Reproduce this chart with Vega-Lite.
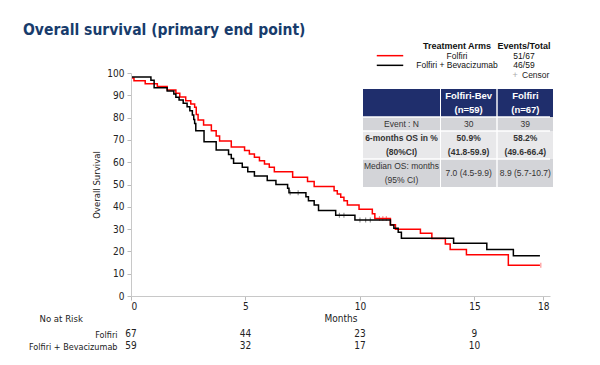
{
 "$schema": "https://vega.github.io/schema/vega-lite/v6.json",
 "width": 419,
 "height": 223,
 "autosize": {"type": "none"},
 "padding": {"left": 131, "top": 73, "right": 50, "bottom": 69},
 "background": "white",
 "config": {"view": {"stroke": null}, "axis": {"grid": false}},
 "title": {"text": "Overall survival (primary end point)", "anchor": "start", "frame": "group", "dx": -108, "font": "DejaVu Sans Condensed, Roboto, sans-serif", "fontSize": 15.5, "fontWeight": "bold", "color": "#183c6c"},
 "datasets": {
  "km": [
   {"arm":"Folfiri","month":0,"survival":97.8},{"arm":"Folfiri","month":0.13,"survival":96.5},{"arm":"Folfiri","month":0.62,"survival":95.2},{"arm":"Folfiri","month":1.15,"survival":93.9},{"arm":"Folfiri","month":1.58,"survival":92.4},{"arm":"Folfiri","month":1.96,"survival":90.9},{"arm":"Folfiri","month":2.13,"survival":89.2},{"arm":"Folfiri","month":2.39,"survival":87.6},{"arm":"Folfiri","month":2.61,"survival":86.1},{"arm":"Folfiri","month":2.78,"survival":84.6},{"arm":"Folfiri","month":2.85,"survival":81.4},{"arm":"Folfiri","month":2.93,"survival":78.9},{"arm":"Folfiri","month":3.17,"survival":76.7},{"arm":"Folfiri","month":3.51,"survival":74.1},{"arm":"Folfiri","month":3.72,"survival":71.7},{"arm":"Folfiri","month":3.87,"survival":69.5},{"arm":"Folfiri","month":4.38,"survival":66.8},{"arm":"Folfiri","month":4.96,"survival":65.2},{"arm":"Folfiri","month":5.17,"survival":63.7},{"arm":"Folfiri","month":5.39,"survival":62.2},{"arm":"Folfiri","month":5.61,"survival":60.7},{"arm":"Folfiri","month":5.83,"survival":59.2},{"arm":"Folfiri","month":6.04,"survival":57.7},{"arm":"Folfiri","month":6.26,"survival":55.7},{"arm":"Folfiri","month":7.06,"survival":53.2},{"arm":"Folfiri","month":7.71,"survival":51.3},{"arm":"Folfiri","month":8.0,"survival":49.1},{"arm":"Folfiri","month":8.87,"survival":47.2},{"arm":"Folfiri","month":9.01,"survival":45.7},{"arm":"Folfiri","month":9.16,"survival":44.3},{"arm":"Folfiri","month":9.3,"survival":42.7},{"arm":"Folfiri","month":9.45,"survival":40.8},{"arm":"Folfiri","month":9.96,"survival":38.9},{"arm":"Folfiri","month":10.54,"survival":36.9},{"arm":"Folfiri","month":10.65,"survival":34.8},{"arm":"Folfiri","month":11.33,"survival":31.9},{"arm":"Folfiri","month":11.55,"survival":29.9},{"arm":"Folfiri","month":12.64,"survival":28.1},{"arm":"Folfiri","month":13.14,"survival":25.8},{"arm":"Folfiri","month":13.73,"survival":23.3},{"arm":"Folfiri","month":13.94,"survival":20.9},{"arm":"Folfiri","month":14.65,"survival":18.5},{"arm":"Folfiri","month":16.48,"survival":13.8},{"arm":"Folfiri","month":17.86,"survival":13.8},
   {"arm":"Folfiri + Bevacizumab","month":0,"survival":98.2},{"arm":"Folfiri + Bevacizumab","month":0.87,"survival":96.8},{"arm":"Folfiri + Bevacizumab","month":1.01,"survival":93.4},{"arm":"Folfiri + Bevacizumab","month":1.58,"survival":91.9},{"arm":"Folfiri + Bevacizumab","month":1.87,"survival":90.6},{"arm":"Folfiri + Bevacizumab","month":1.96,"survival":89.1},{"arm":"Folfiri + Bevacizumab","month":2.1,"survival":87.9},{"arm":"Folfiri + Bevacizumab","month":2.28,"survival":86.4},{"arm":"Folfiri + Bevacizumab","month":2.45,"survival":84.9},{"arm":"Folfiri + Bevacizumab","month":2.57,"survival":83.1},{"arm":"Folfiri + Bevacizumab","month":2.68,"survival":81.2},{"arm":"Folfiri + Bevacizumab","month":2.74,"survival":79.2},{"arm":"Folfiri + Bevacizumab","month":2.78,"survival":77.4},{"arm":"Folfiri + Bevacizumab","month":2.83,"survival":74.1},{"arm":"Folfiri + Bevacizumab","month":3.19,"survival":69.2},{"arm":"Folfiri + Bevacizumab","month":3.72,"survival":65.5},{"arm":"Folfiri + Bevacizumab","month":4.26,"survival":63.5},{"arm":"Folfiri + Bevacizumab","month":4.38,"survival":61.7},{"arm":"Folfiri + Bevacizumab","month":4.48,"survival":59.5},{"arm":"Folfiri + Bevacizumab","month":4.86,"survival":57.7},{"arm":"Folfiri + Bevacizumab","month":5.1,"survival":55.7},{"arm":"Folfiri + Bevacizumab","month":5.39,"survival":53.8},{"arm":"Folfiri + Bevacizumab","month":5.95,"survival":51.8},{"arm":"Folfiri + Bevacizumab","month":6.33,"survival":50.0},{"arm":"Folfiri + Bevacizumab","month":6.84,"survival":48.3},{"arm":"Folfiri + Bevacizumab","month":6.9,"survival":46.3},{"arm":"Folfiri + Bevacizumab","month":7.64,"survival":44.5},{"arm":"Folfiri + Bevacizumab","month":7.75,"survival":42.7},{"arm":"Folfiri + Bevacizumab","month":8.0,"survival":40.8},{"arm":"Folfiri + Bevacizumab","month":8.19,"survival":38.3},{"arm":"Folfiri + Bevacizumab","month":8.94,"survival":36.2},{"arm":"Folfiri + Bevacizumab","month":9.78,"survival":34.1},{"arm":"Folfiri + Bevacizumab","month":11.33,"survival":31.8},{"arm":"Folfiri + Bevacizumab","month":11.48,"survival":30.4},{"arm":"Folfiri + Bevacizumab","month":11.67,"survival":28.6},{"arm":"Folfiri + Bevacizumab","month":11.81,"survival":25.9},{"arm":"Folfiri + Bevacizumab","month":14.09,"survival":23.6},{"arm":"Folfiri + Bevacizumab","month":15.54,"survival":20.9},{"arm":"Folfiri + Bevacizumab","month":16.7,"survival":18.1},{"arm":"Folfiri + Bevacizumab","month":17.86,"survival":18.1}
  ],
  "censor": [
   {"arm":"Folfiri + Bevacizumab","month":6.95,"survival":46.3},{"arm":"Folfiri + Bevacizumab","month":7.3,"survival":46.3},{"arm":"Folfiri + Bevacizumab","month":9.1,"survival":36.2},{"arm":"Folfiri + Bevacizumab","month":9.3,"survival":36.2},{"arm":"Folfiri + Bevacizumab","month":10.0,"survival":34.1},{"arm":"Folfiri + Bevacizumab","month":10.25,"survival":34.1},{"arm":"Folfiri + Bevacizumab","month":10.45,"survival":34.1},
   {"arm":"Folfiri","month":10.85,"survival":34.8},{"arm":"Folfiri","month":11.0,"survival":34.8},{"arm":"Folfiri","month":11.15,"survival":34.8},{"arm":"Folfiri","month":17.9,"survival":13.8}
  ],
  "risk": [
   {"arm":"Folfiri","month":0,"n":67},{"arm":"Folfiri","month":5,"n":44},{"arm":"Folfiri","month":10,"n":23},{"arm":"Folfiri","month":15,"n":9},
   {"arm":"Folfiri + Bevacizumab","month":0,"n":59},{"arm":"Folfiri + Bevacizumab","month":5,"n":32},{"arm":"Folfiri + Bevacizumab","month":10,"n":17},{"arm":"Folfiri + Bevacizumab","month":15,"n":10}
  ],
  "legHead": [{"lrow":"head","lcol":"arm","txt":"Treatment Arms"},{"lrow":"head","lcol":"events","txt":"Events/Total"}],
  "legRows": [{"lrow":"Folfiri","lcol":"arm","txt":"Folfiri"},{"lrow":"Folfiri","lcol":"events","txt":"51/67"},{"lrow":"Folfiri + Bevacizumab","lcol":"arm","txt":"Folfiri + Bevacizumab"},{"lrow":"Folfiri + Bevacizumab","lcol":"events","txt":"46/59"}],
  "legSym": [{"lrow":"Folfiri","lcol":"sym","arm":"Folfiri"},{"lrow":"Folfiri + Bevacizumab","lcol":"sym","arm":"Folfiri + Bevacizumab"}],
  "legCensor": [{"lrow":"censor","lcol":"events","txt":"Censor"}],
  "tLabBg": [
   {"col":"label","line":"h1","grp":"head"},{"col":"label","line":"h2","grp":"head"},{"col":"label","line":"e","grp":"gray"},{"col":"label","line":"o1","grp":"light"},{"col":"label","line":"o2","grp":"light"},{"col":"label","line":"m1","grp":"gray"},{"col":"label","line":"m2","grp":"gray"}
  ],
  "tValBg": [
   {"col":"Folfiri-Bev","line":"h1","grp":"head"},{"col":"Folfiri-Bev","line":"h2","grp":"head"},{"col":"Folfiri-Bev","line":"e","grp":"gray"},{"col":"Folfiri-Bev","line":"o1","grp":"light"},{"col":"Folfiri-Bev","line":"o2","grp":"light"},{"col":"Folfiri-Bev","line":"m1","grp":"gray"},{"col":"Folfiri-Bev","line":"m2","grp":"gray"},
   {"col":"Folfiri","line":"h1","grp":"head"},{"col":"Folfiri","line":"h2","grp":"head"},{"col":"Folfiri","line":"e","grp":"gray"},{"col":"Folfiri","line":"o1","grp":"light"},{"col":"Folfiri","line":"o2","grp":"light"},{"col":"Folfiri","line":"m1","grp":"gray"},{"col":"Folfiri","line":"m2","grp":"gray"}
  ],
  "tLab": [
   {"col":"label","line":"e","txt":"Event : N","style":"norm"},{"col":"label","line":"o1","txt":"6-months OS in %","style":"bold"},{"col":"label","line":"o2","txt":"(80%CI)","style":"bold"},{"col":"label","line":"m1","txt":"Median OS: months","style":"norm"},{"col":"label","line":"m2","txt":"(95% CI)","style":"norm"}
  ],
  "tVal": [
   {"col":"Folfiri-Bev","line":"h1","txt":"Folfiri-Bev","style":"head"},{"col":"Folfiri-Bev","line":"h2","txt":"(n=59)","style":"head"},{"col":"Folfiri","line":"h1","txt":"Folfiri","style":"head"},{"col":"Folfiri","line":"h2","txt":"(n=67)","style":"head"},
   {"col":"Folfiri-Bev","line":"e","txt":"30","style":"norm"},{"col":"Folfiri","line":"e","txt":"39","style":"norm"},
   {"col":"Folfiri-Bev","line":"o1","txt":"50.9%","style":"bold"},{"col":"Folfiri-Bev","line":"o2","txt":"(41.8-59.9)","style":"bold"},{"col":"Folfiri","line":"o1","txt":"58.2%","style":"bold"},{"col":"Folfiri","line":"o2","txt":"(49.6-66.4)","style":"bold"},
   {"col":"Folfiri-Bev","line":"m2","txt":"7.0 (4.5-9.9)","style":"mid"},{"col":"Folfiri","line":"m2","txt":"8.9 (5.7-10.7)","style":"mid"}
  ],
  "tSep": [{"line":"e"},{"line":"o1"},{"line":"m1"}]
 },
 "layer": [
  {"data":{"name":"tLabBg"},"mark":{"type":"rect"},"encoding":{
    "x":{"field":"col","type":"nominal","scale":{"type":"band","domain":["label"],"range":[232,309],"paddingInner":0,"paddingOuter":0},"axis":null},
    "y":{"field":"line","type":"nominal","scale":{"type":"band","domain":["h1","h2","e","o1","o2","m1","m2"],"range":[16,114],"paddingInner":0,"paddingOuter":0},"axis":null},
    "color":{"field":"grp","type":"nominal","scale":{"domain":["head","gray","light"],"range":["#1f2e6c","#d3d4d8","#e8e8ea"]},"legend":null}}},
  {"data":{"name":"tValBg"},"mark":{"type":"rect"},"encoding":{
    "x":{"field":"col","type":"nominal","scale":{"type":"band","domain":["Folfiri-Bev","Folfiri"],"range":[310,422],"paddingInner":0.025,"paddingOuter":0},"axis":null},
    "y":{"field":"line","type":"nominal","scale":{"type":"band","domain":["h1","h2","e","o1","o2","m1","m2"],"range":[16,114],"paddingInner":0,"paddingOuter":0},"axis":null},
    "color":{"field":"grp","type":"nominal","scale":{"domain":["head","gray","light"],"range":["#1f2e6c","#d3d4d8","#e8e8ea"]},"legend":null}}},
  {"data":{"name":"tSep"},"mark":{"type":"rule","color":"white","strokeWidth":1.5},"encoding":{
    "y":{"field":"line","type":"nominal","bandPosition":0,"scale":{"type":"band","domain":["h1","h2","e","o1","o2","m1","m2"],"range":[16,114],"paddingInner":0,"paddingOuter":0},"axis":null}}},
  {"data":{"name":"tLab"},"transform":[{"filter":"datum.style == 'norm'"}],"mark":{"type":"text","font":"Liberation Sans","fontSize":8.5,"color":"#333"},"encoding":{
    "x":{"field":"col","type":"nominal","scale":{"type":"band","domain":["label"],"range":[232,309],"paddingInner":0,"paddingOuter":0},"axis":null},
    "y":{"field":"line","type":"nominal","scale":{"type":"band","domain":["h1","h2","e","o1","o2","m1","m2"],"range":[16,114],"paddingInner":0,"paddingOuter":0},"axis":null},
    "text":{"field":"txt"}}},
  {"data":{"name":"tLab"},"transform":[{"filter":"datum.style == 'bold'"}],"mark":{"type":"text","font":"Liberation Sans","fontSize":8.5,"fontWeight":"bold","color":"#333"},"encoding":{
    "x":{"field":"col","type":"nominal","scale":{"type":"band","domain":["label"],"range":[232,309],"paddingInner":0,"paddingOuter":0},"axis":null},
    "y":{"field":"line","type":"nominal","scale":{"type":"band","domain":["h1","h2","e","o1","o2","m1","m2"],"range":[16,114],"paddingInner":0,"paddingOuter":0},"axis":null},
    "text":{"field":"txt"}}},
  {"data":{"name":"tVal"},"transform":[{"filter":"datum.style == 'head'"}],"mark":{"type":"text","font":"Liberation Sans","fontSize":9.5,"fontWeight":"bold","color":"white"},"encoding":{
    "x":{"field":"col","type":"nominal","scale":{"type":"band","domain":["Folfiri-Bev","Folfiri"],"range":[310,422],"paddingInner":0.025,"paddingOuter":0},"axis":null},
    "y":{"field":"line","type":"nominal","scale":{"type":"band","domain":["h1","h2","e","o1","o2","m1","m2"],"range":[16,114],"paddingInner":0,"paddingOuter":0},"axis":null},
    "text":{"field":"txt"}}},
  {"data":{"name":"tVal"},"transform":[{"filter":"datum.style == 'norm'"}],"mark":{"type":"text","font":"Liberation Sans","fontSize":8.5,"color":"#333"},"encoding":{
    "x":{"field":"col","type":"nominal","scale":{"type":"band","domain":["Folfiri-Bev","Folfiri"],"range":[310,422],"paddingInner":0.025,"paddingOuter":0},"axis":null},
    "y":{"field":"line","type":"nominal","scale":{"type":"band","domain":["h1","h2","e","o1","o2","m1","m2"],"range":[16,114],"paddingInner":0,"paddingOuter":0},"axis":null},
    "text":{"field":"txt"}}},
  {"data":{"name":"tVal"},"transform":[{"filter":"datum.style == 'bold'"}],"mark":{"type":"text","font":"Liberation Sans","fontSize":8.5,"fontWeight":"bold","color":"#333"},"encoding":{
    "x":{"field":"col","type":"nominal","scale":{"type":"band","domain":["Folfiri-Bev","Folfiri"],"range":[310,422],"paddingInner":0.025,"paddingOuter":0},"axis":null},
    "y":{"field":"line","type":"nominal","scale":{"type":"band","domain":["h1","h2","e","o1","o2","m1","m2"],"range":[16,114],"paddingInner":0,"paddingOuter":0},"axis":null},
    "text":{"field":"txt"}}},
  {"data":{"name":"tVal"},"transform":[{"filter":"datum.style == 'mid'"}],"mark":{"type":"text","font":"Liberation Sans","fontSize":8.5,"color":"#333"},"encoding":{
    "x":{"field":"col","type":"nominal","scale":{"type":"band","domain":["Folfiri-Bev","Folfiri"],"range":[310,422],"paddingInner":0.025,"paddingOuter":0},"axis":null},
    "y":{"field":"line","type":"nominal","bandPosition":0,"scale":{"type":"band","domain":["h1","h2","e","o1","o2","m1","m2"],"range":[16,114],"paddingInner":0,"paddingOuter":0},"axis":null},
    "text":{"field":"txt"}}},
  {"data":{"name":"legHead"},"mark":{"type":"text","font":"Liberation Sans","fontSize":9,"fontWeight":"bold","color":"#111"},"encoding":{
    "x":{"field":"lcol","type":"nominal","scale":{"type":"point","domain":["sym","arm","events"],"range":[259,393],"padding":0},"axis":null},
    "y":{"field":"lrow","type":"nominal","scale":{"type":"point","domain":["head","Folfiri","Folfiri + Bevacizumab","censor"],"range":[-27,2],"padding":0},"axis":null},
    "text":{"field":"txt"}}},
  {"data":{"name":"legRows"},"mark":{"type":"text","font":"Liberation Sans","fontSize":8.5,"color":"#111"},"encoding":{
    "x":{"field":"lcol","type":"nominal","scale":{"type":"point","domain":["sym","arm","events"],"range":[259,393],"padding":0},"axis":null},
    "y":{"field":"lrow","type":"nominal","scale":{"type":"point","domain":["head","Folfiri","Folfiri + Bevacizumab","censor"],"range":[-27,2],"padding":0},"axis":null},
    "text":{"field":"txt"}}},
  {"data":{"name":"legSym"},"mark":{"type":"point","shape":"stroke","size":700,"strokeWidth":1.5,"filled":false,"opacity":1},"encoding":{
    "x":{"field":"lcol","type":"nominal","scale":{"type":"point","domain":["sym","arm","events"],"range":[259,393],"padding":0},"axis":null},
    "y":{"field":"lrow","type":"nominal","scale":{"type":"point","domain":["head","Folfiri","Folfiri + Bevacizumab","censor"],"range":[-27,2],"padding":0},"axis":null},
    "color":{"field":"arm","type":"nominal","scale":{"domain":["Folfiri","Folfiri + Bevacizumab"],"range":["#ff0000","#000000"]},"legend":null}}},
  {"data":{"name":"legCensor"},"mark":{"type":"text","font":"Liberation Sans","fontSize":8.5,"color":"#222","align":"left","dx":-2},"encoding":{
    "x":{"field":"lcol","type":"nominal","scale":{"type":"point","domain":["sym","arm","events"],"range":[259,393],"padding":0},"axis":null},
    "y":{"field":"lrow","type":"nominal","scale":{"type":"point","domain":["head","Folfiri","Folfiri + Bevacizumab","censor"],"range":[-27,2],"padding":0},"axis":null},
    "text":{"field":"txt"}}},
  {"data":{"name":"legCensor"},"mark":{"type":"text","font":"Liberation Sans","fontSize":9,"color":"#aaa","dx":-9,"text":"+"},"encoding":{
    "x":{"field":"lcol","type":"nominal","scale":{"type":"point","domain":["sym","arm","events"],"range":[259,393],"padding":0},"axis":null},
    "y":{"field":"lrow","type":"nominal","scale":{"type":"point","domain":["head","Folfiri","Folfiri + Bevacizumab","censor"],"range":[-27,2],"padding":0},"axis":null}}},
  {"data":{"name":"risk"},"mark":{"type":"text","font":"DejaVu Sans Condensed, Roboto, sans-serif","fontSize":10,"color":"#222"},"encoding":{
    "x":{"field":"month","type":"quantitative","scale":{"domain":[0,18.3],"nice":false},"axis":null},
    "y":{"field":"arm","type":"nominal","scale":{"type":"point","domain":["Folfiri","Folfiri + Bevacizumab"],"range":[261,273],"padding":0},
      "axis":{"orient":"left","domain":false,"ticks":false,"labelPadding":14,"labelFont":"DejaVu Sans Condensed, Roboto, sans-serif","labelFontSize":9,"labelColor":"#222","title":"No at Risk","titleAngle":0,"titleAlign":"left","titleBaseline":"middle","titleX":-92,"titleY":245,"titleFont":"DejaVu Sans Condensed, Roboto, sans-serif","titleFontSize":9.5,"titleFontWeight":"normal","titleColor":"#222"}},
    "text":{"field":"n"}}},
  {"data":{"name":"censor"},"mark":{"type":"tick","orient":"vertical","size":5,"thickness":1,"opacity":0.5},"encoding":{
    "x":{"field":"month","type":"quantitative","scale":{"domain":[0,18.3],"nice":false},"axis":null},
    "y":{"field":"survival","type":"quantitative","scale":{"domain":[0,100]},"axis":null},
    "color":{"field":"arm","type":"nominal","scale":{"domain":["Folfiri","Folfiri + Bevacizumab"],"range":["#ff0000","#000000"]},"legend":null}}},
  {"data":{"name":"km"},"mark":{"type":"line","interpolate":"step-after","strokeWidth":1.5},"encoding":{
    "x":{"field":"month","type":"quantitative","scale":{"domain":[0,18.3],"nice":false},
      "axis":{"orient":"bottom","values":[0,5,10,15,18],"title":"Months","zindex":1,"domainColor":"#c8c8c8","tickColor":"#bbb","tickSize":4,"labelPadding":1,"labelFont":"DejaVu Sans Condensed, Roboto, sans-serif","labelFontSize":10,"labelColor":"#222","titleFont":"DejaVu Sans Condensed, Roboto, sans-serif","titleFontSize":10,"titleFontWeight":"normal","titleColor":"#222","titlePadding":2}},
    "y":{"field":"survival","type":"quantitative","scale":{"domain":[0,100]},
      "axis":{"orient":"left","values":[0,10,20,30,40,50,60,70,80,90,100],"title":"Overall Survival","zindex":1,"domainColor":"#c8c8c8","tickColor":"#bbb","tickSize":4,"labelPadding":3,"labelFont":"DejaVu Sans Condensed, Roboto, sans-serif","labelFontSize":10,"labelColor":"#222","titleFont":"DejaVu Sans Condensed, Roboto, sans-serif","titleFontSize":9.5,"titleFontWeight":"normal","titleColor":"#222","titlePadding":5}},
    "color":{"field":"arm","type":"nominal","scale":{"domain":["Folfiri","Folfiri + Bevacizumab"],"range":["#ff0000","#000000"]},"legend":null}}}
 ],
 "resolve":{"scale":{"x":"independent","y":"independent","color":"independent"}}
}
